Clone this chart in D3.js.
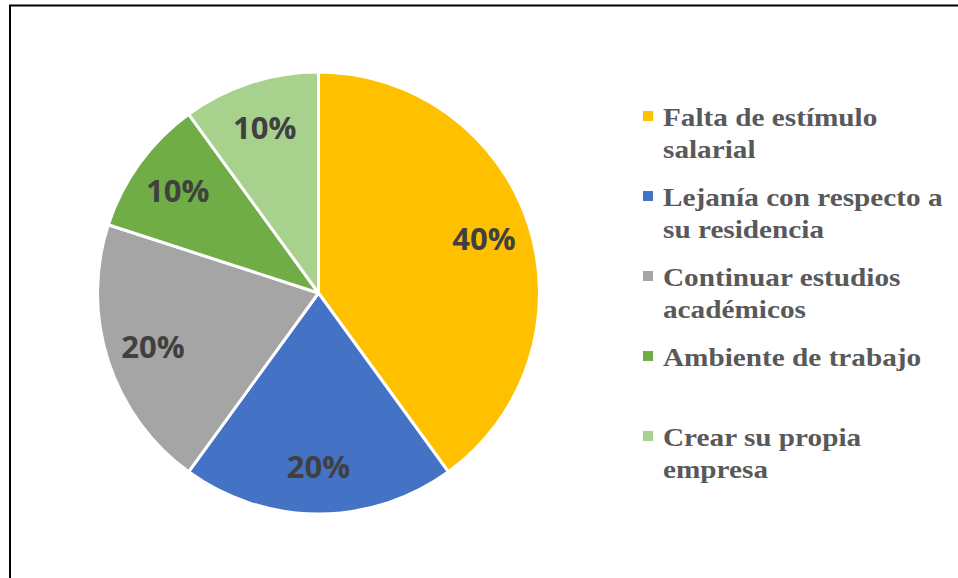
<!DOCTYPE html>
<html lang="es">
<head>
    <meta charset="UTF-8">
    <title>Motivos</title>
    <script src="https://cdnjs.cloudflare.com/ajax/libs/d3/7.8.5/d3.min.js"></script>
    <style>
        html, body { margin: 0; padding: 0; background: #fff; }
        svg { display: block; }
    </style>
</head>
<body>
<svg width="958" height="578"></svg>

<script>
    // data
    const categories = [
        "Falta de estímulo\nsalarial",
        "Lejanía con respecto a\nsu residencia",
        "Continuar estudios\nacadémicos",
        "Ambiente de trabajo",
        "Crear su propia\nempresa"
    ];
    const values = [40, 20, 20, 10, 10];
    const colors = ["#FFC000", "#4472C4", "#A5A5A5", "#70AD47", "#A9D18E"];

    const svg = d3.select("svg");
    const cx = 318.5, cy = 293, radius = 221;

    // frame (cut off at right and bottom like the original)
    svg.append("rect")
        .attr("x", 10).attr("y", 5.5)
        .attr("width", 1200).attr("height", 1200)
        .attr("fill", "none")
        .attr("stroke", "#000")
        .attr("stroke-width", 2);

    const pie = d3.pie().sort(null).value(d => d);
    const arcs = pie(values);
    const arc = d3.arc().innerRadius(0).outerRadius(radius);
    const labelArc = d3.arc().innerRadius(174).outerRadius(174);
    const total = d3.sum(values);

    const g = svg.append("g").attr("transform", `translate(${cx},${cy})`);

    g.selectAll("path")
        .data(arcs)
        .enter()
        .append("path")
        .attr("d", arc)
        .attr("fill", (d, i) => colors[i])
        .attr("stroke", "#fff")
        .attr("stroke-width", 3)
        .attr("stroke-linejoin", "round");

    g.selectAll("text")
        .data(arcs)
        .enter()
        .append("text")
        .attr("transform", d => `translate(${labelArc.centroid(d)})`)
        .attr("text-anchor", "middle")
        .attr("dy", "0.36em")
        .attr("font-family", "'Open Sans', sans-serif")
        .attr("font-weight", "bold")
        .attr("font-size", 31)
        .attr("fill", "#404040")
        .text(d => Math.round(d.data / total * 100) + "%");

    // legend
    const legend = svg.append("g").attr("transform", "translate(643,126)");
    const item = legend.selectAll("g")
        .data(categories)
        .enter()
        .append("g")
        .attr("transform", (d, i) => `translate(0,${i * 80})`);

    item.append("rect")
        .attr("x", 0).attr("y", -15)
        .attr("width", 10).attr("height", 10)
        .attr("fill", (d, i) => colors[i]);

    // the original text is a bit wider than Times at this height
    item.append("text")
        .attr("transform", "translate(20,0) scale(1.125,1)")
        .attr("font-family", "'Liberation Serif', 'Times New Roman', serif")
        .attr("font-weight", "bold")
        .attr("font-size", 26)
        .attr("fill", "#595959")
        .selectAll("tspan")
        .data(d => d.split("\n"))
        .enter()
        .append("tspan")
        .attr("x", 0)
        .attr("y", (d, i) => i * 32)
        .text(d => d);
</script>
</body>
</html>
